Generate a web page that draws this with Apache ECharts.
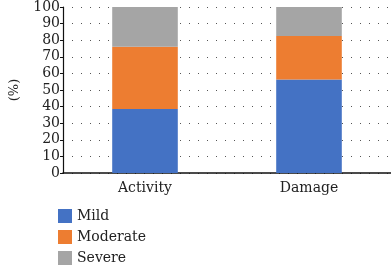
<!DOCTYPE html>
<html>
<head>
<meta charset="utf-8">
<script src="https://cdn.jsdelivr.net/npm/echarts@6/dist/echarts.min.js"></script>
<style>
  html, body { margin: 0; padding: 0; background: #fff; }
  #chart { width: 391px; height: 265px; }
</style>
</head>
<body>
<div id="chart"></div>
<script>
// stacked shares per group, in percent
var categories = ["Activity", "Damage"];
var mild = [38.5, 56.3];
var moderate = [37.5, 26.3];
var severe = [24, 17.4];
var seriesNames = ["Mild", "Moderate", "Severe"];
var colors = ["#4472c4", "#ed7d31", "#a5a5a5"];

var serif = "DejaVu Serif, Liberation Serif, serif";
var chart = echarts.init(document.getElementById("chart"));

var makeBar = function (name, data) {
    return {
        name: name,
        type: "bar",
        stack: "total",
        barWidth: "40%",
        data: data,
        itemStyle: {borderWidth: 0}
    };
};

chart.setOption({
    animation: false,
    color: colors,
    grid: {left: 58, right: 0, top: 6, bottom: 92},
    legend: {
        orient: "vertical",
        left: 58,
        top: 209,
        height: 60,
        padding: 0,
        icon: "rect",
        itemWidth: 14,
        itemHeight: 14,
        itemGap: 7,
        data: seriesNames,
        textStyle: {fontFamily: serif, fontSize: 14, color: "#222"}
    },
    xAxis: {
        type: "category",
        data: categories,
        axisLine: {lineStyle: {color: "#111", width: 1.5}},
        axisTick: {show: false},
        axisLabel: {fontFamily: serif, fontSize: 14, color: "#222", margin: 8}
    },
    yAxis: {
        type: "value",
        min: 0,
        max: 100,
        interval: 10,
        name: "(%)",
        nameLocation: "middle",
        nameGap: 42,
        nameRotate: 90,
        nameTextStyle: {fontFamily: serif, fontSize: 13, color: "#222"},
        axisLine: {show: true, lineStyle: {color: "#111", width: 1.2}},
        axisTick: {show: true, length: 3, lineStyle: {color: "#111"}},
        axisLabel: {fontFamily: serif, fontSize: 14, color: "#222", margin: 3},
        splitLine: {lineStyle: {color: "#555", width: 1, type: [1, 8]}}
    },
    series: [
        makeBar(seriesNames[0], mild),
        makeBar(seriesNames[1], moderate),
        makeBar(seriesNames[2], severe)
    ]
});
</script>
</body>
</html>
